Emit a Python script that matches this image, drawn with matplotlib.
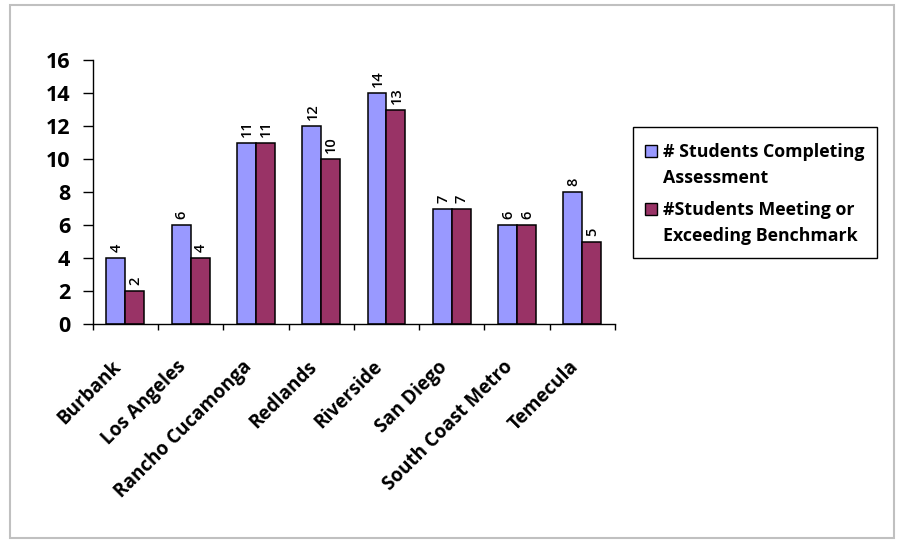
import matplotlib.pyplot as plt
from matplotlib.patches import Rectangle
import numpy as np

plt.rcParams['font.family'] = ['Open Sans', 'DejaVu Sans']

CATEGORIES = ["Burbank", "Los Angeles", "Rancho Cucamonga", "Redlands",
              "Riverside", "San Diego", "South Coast Metro", "Temecula"]
COMPLETING = [4, 6, 11, 12, 14, 7, 6, 8]
MEETING = [2, 4, 11, 10, 13, 7, 6, 5]
SERIES_NAMES = [["# Students Completing", "Assessment"],
                ["#Students Meeting or", "Exceeding Benchmark"]]
COLORS = ["#9999FF", "#993366"]
YTICKS = [0, 2, 4, 6, 8, 10, 12, 14, 16]

W, H = 898, 540


def fx(px):
    return px / W


def fy(py):
    return 1 - py / H


def main():
    fig = plt.figure(figsize=(W / 100, H / 100), dpi=100)
    # outer chart border
    fig.patches.append(Rectangle((fx(9.5), fy(538)), 884 / W, 533 / H,
                                 transform=fig.transFigure, fill=False,
                                 edgecolor="#c0c0c0", linewidth=1.5))
    ax = fig.add_axes([fx(92.7), fy(324), fx(615) - fx(92.7), fy(60) - fy(324)])

    x = np.arange(len(CATEGORIES))
    w = 0.29
    b1 = ax.bar(x - w / 2, COMPLETING, w, color=COLORS[0],
                edgecolor="black", linewidth=1.1)
    b2 = ax.bar(x + w / 2, MEETING, w, color=COLORS[1],
                edgecolor="black", linewidth=1.1)

    for bars in (b1, b2):
        for rect in bars:
            ax.annotate(str(int(rect.get_height())),
                        (rect.get_x() + rect.get_width() / 2, rect.get_height()),
                        xytext=(0.5, 4), textcoords="offset points",
                        rotation=90, ha="center", va="bottom",
                        fontsize=10.5, fontweight="semibold")

    ax.set_xlim(-0.5, len(CATEGORIES) - 0.5)
    ax.set_ylim(0, 16)
    ax.set_yticks(YTICKS)
    ax.set_yticklabels([str(t) for t in YTICKS], fontsize=15.5,
                       fontweight="bold")
    ax.set_xticks(np.arange(len(CATEGORIES) + 1) - 0.5)
    ax.set_xticklabels([])
    ax.tick_params(axis="x", direction="out", length=4.5, width=1)
    ax.tick_params(axis="y", direction="out", length=7, width=1, pad=9)
    for i, name in enumerate(CATEGORIES):
        ax.annotate(name, (i, 0), xytext=(-7, -40), textcoords="offset pixels",
                    rotation=45, ha="right", va="center",
                    rotation_mode="anchor", fontsize=13.6,
                    fontweight="bold")

    ax.spines["top"].set_visible(False)
    ax.spines["right"].set_visible(False)
    ax.spines["left"].set_linewidth(1.0)
    ax.spines["bottom"].set_linewidth(1.0)

    # legend drawn by hand so the swatch sits on the first text line
    fig.patches.append(Rectangle((fx(633), fy(258)), 244 / W, 131 / H,
                                 transform=fig.transFigure, fill=True,
                                 facecolor="white", edgecolor="black",
                                 linewidth=1.0))
    for k, (lines, color) in enumerate(zip(SERIES_NAMES, COLORS)):
        base = 157 + 58 * k
        fig.patches.append(Rectangle((fx(644.5), fy(base)), 12 / W, 12 / H,
                                     transform=fig.transFigure,
                                     facecolor=color, edgecolor="black",
                                     linewidth=1.0))
        for j, line in enumerate(lines):
            fig.text(fx(663), fy(base + 26 * j), line, ha="left",
                     va="baseline", fontsize=12.8, fontweight="bold")

    fig.savefig("out.png", dpi=100)
    plt.close(fig)


if __name__ == "__main__":
    main()
